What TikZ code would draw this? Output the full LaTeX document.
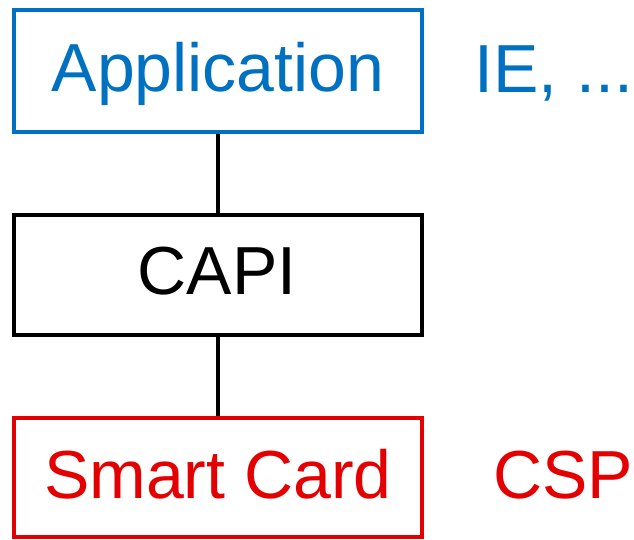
\documentclass[tikz,border=0pt]{standalone}
\usepackage{fontspec}
\setmainfont{Liberation Sans}
\definecolor{appblue}{RGB}{0,112,192}
\definecolor{cardred}{RGB}{228,0,0}
\begin{document}
\begin{tikzpicture}[x=1pt,y=-1pt,
  layer/.style={draw, rectangle, line width=3.6pt, minimum width=408pt, inner sep=0pt},
  caption/.style={inner sep=0pt, font=\fontsize{68}{80}\selectfont},
  link/.style={draw=black, line width=4pt}]
  \useasboundingbox (0,0) rectangle (634,539);
  % stacked layers
  \node[layer, draw=appblue, minimum height=122pt] (app) at (218,71) {};
  \node[layer, draw=black, minimum height=120pt] (capi) at (218,275) {};
  \node[layer, draw=cardred, minimum height=119pt] (card) at (218,477.5) {};
  % layer names
  \node[caption, text=appblue, anchor=base] (apptext) at (218,91) {Application};
  \node[caption, text=black, anchor=base] (capitext) at (217,294) {CAPI};
  \node[caption, text=cardred, anchor=base] (cardtext) at (218,498) {Smart Card};
  % side notes
  \node[caption, text=appblue, anchor=base east] (ie) at (633.5,92) {IE, ...};
  \node[caption, text=cardred, anchor=base east] (csp) at (633.5,498) {CSP};
  % connectors
  \draw[link] (app.south) -- (capi.north);
  \draw[link] (capi.south) -- (card.north);
\end{tikzpicture}
\end{document}
